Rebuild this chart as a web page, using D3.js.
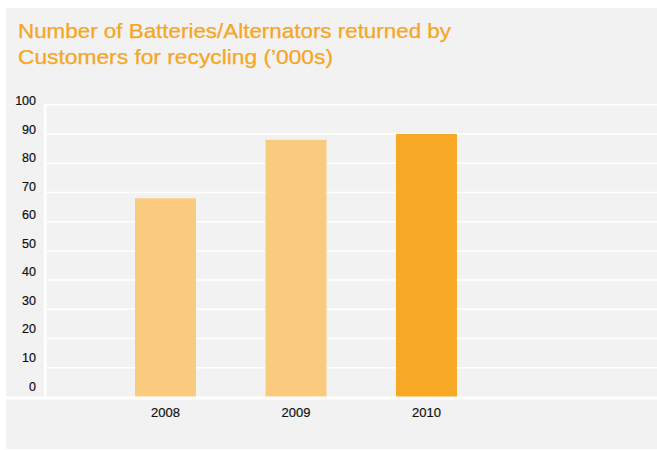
<!DOCTYPE html>
<html>
<head>
<meta charset="utf-8">
<script src="https://cdn.jsdelivr.net/npm/d3@7/dist/d3.min.js"></script>
<style>
  html, body { margin: 0; padding: 0; background: #ffffff; }
  svg { display: block; }
  text { font-family: "Liberation Sans", Arial, Helvetica, sans-serif; }
</style>
</head>
<body>
<svg id="chart" width="657" height="450"></svg>
<script>
// Batteries/alternators returned for recycling, thousands per year
const years = ["2008", "2009", "2010"];
const returned = [68, 88, 90];
const barColors = ["#FACB7E", "#FACB7E", "#F7A926"];
const yTicks = [0, 10, 20, 30, 40, 50, 60, 70, 80, 90, 100];
const titleLines = [
  "Number of Batteries/Alternators returned by",
  "Customers for recycling (\u2019000s)"
];
const titleWidths = [433, 315];

const W = 657, H = 450;
const svg = d3.select("#chart");

// panel background
svg.append("rect")
  .attr("x", 6).attr("y", 8)
  .attr("width", W - 6).attr("height", H - 9)
  .attr("fill", "#F2F2F2");

// title, two lines set to a fixed measure
svg.append("g")
  .selectAll("text")
  .data(titleLines)
  .join("text")
  .attr("x", 18)
  .attr("y", (d, i) => 38 + i * 26.3)
  .attr("fill", "#F6A623")
  .attr("stroke", "#F6A623")
  .attr("stroke-width", 0.25)
  .attr("font-size", 20.5)
  .attr("textLength", (d, i) => titleWidths[i])
  .attr("lengthAdjust", "spacingAndGlyphs")
  .text(d => d);

// scales
const y = d3.scaleLinear().domain([0, 100]).range([397, 104.8]);
// tick labels sit on a slightly tighter spacing than the grid
const yLabel = d3.scaleLinear().domain([0, 100]).range([390, 104.5]);
const x = d3.scaleBand()
  .domain(years)
  .range([100.25, 491.75])
  .paddingInner(0.533)
  .paddingOuter(0.2665);

// horizontal grid lines
svg.append("g")
  .selectAll("line")
  .data(yTicks.filter(d => d > 0))
  .join("line")
  .attr("x1", 44).attr("x2", W)
  .attr("y1", d => y(d)).attr("y2", d => y(d))
  .attr("stroke", "#ffffff")
  .attr("stroke-width", 1.5);

// vertical axis rule
svg.append("line")
  .attr("x1", 45.2).attr("x2", 45.2)
  .attr("y1", y(100) - 0.75).attr("y2", y(0))
  .attr("stroke", "#ffffff")
  .attr("stroke-width", 2.6);

// bars
svg.append("g")
  .selectAll("rect")
  .data(years.map((yr, i) => ({ yr, v: returned[i], c: barColors[i] })))
  .join("rect")
  .attr("x", d => x(d.yr))
  .attr("width", x.bandwidth())
  .attr("y", d => y(d.v))
  .attr("height", d => y(0) - y(d.v))
  .attr("fill", d => d.c);

// baseline
svg.append("line")
  .attr("x1", 6).attr("x2", W)
  .attr("y1", y(0) + 1).attr("y2", y(0) + 1)
  .attr("stroke", "#ffffff")
  .attr("stroke-width", 2.8);

// y axis labels
const yAxis = svg.append("g")
  .attr("transform", "translate(39,0)")
  .call(d3.axisLeft(yLabel).tickValues(yTicks).tickSize(0).tickPadding(3));
yAxis.select(".domain").remove();
yAxis.selectAll("text")
  .attr("dy", 0)
  .attr("fill", "#111111")
  .attr("stroke", "#111111")
  .attr("stroke-width", 0.2)
  .attr("font-size", 12.5)
  .attr("font-family", "'Liberation Sans', Arial, Helvetica, sans-serif");

// x axis labels
const xAxis = svg.append("g")
  .attr("transform", "translate(0,416.5)")
  .call(d3.axisBottom(x).tickSize(0));
xAxis.select(".domain").remove();
xAxis.selectAll("text")
  .attr("y", 0).attr("dy", 0)
  .attr("fill", "#111111")
  .attr("stroke", "#111111")
  .attr("stroke-width", 0.2)
  .attr("font-size", 13)
  .attr("font-family", "'Liberation Sans', Arial, Helvetica, sans-serif");
</script>
</body>
</html>
